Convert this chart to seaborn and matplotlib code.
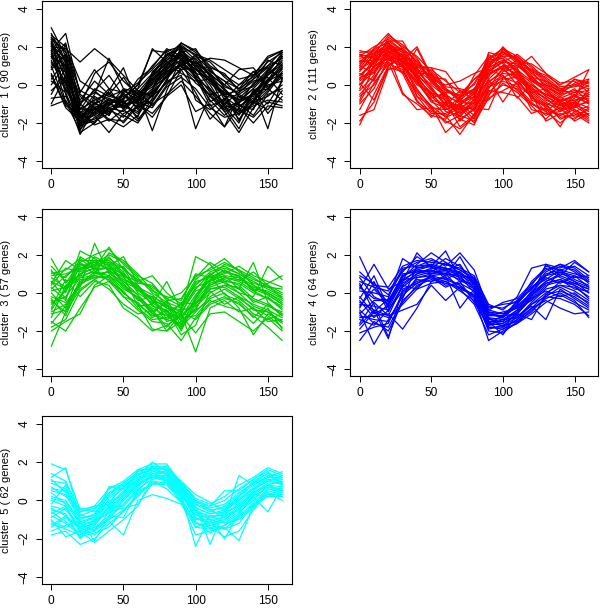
import numpy as np
import pandas as pd
import seaborn as sns
import matplotlib.pyplot as plt

TIMES = [0, 10, 20, 30, 40, 50, 60, 70, 80, 90, 100, 110, 120, 130, 140, 150, 160]

GENE_COUNTS = [90, 111, 57, 64, 62]
COLORS = ['#000000', '#FF0000', '#00CD00', '#0000FF', '#00FFFF']

# one string per gene profile, values at the 17 time points
CLUSTER1 = [
    "2.5 1.2 -1.8 -1.2 -0.8 -0.9 -0.5 0.3 1.0 1.8 1.2 0.5 -0.3 -0.8 -0.2 0.6 1.2",
    "3.0 1.5 -2.2 -1.5 -1.0 -0.6 -0.2 0.6 1.4 2.1 1.5 0.8 0.0 -0.5 0.0 0.8 1.5",
    "1.8 2.7 -0.5 -1.0 -0.6 -0.3 -0.8 0.1 0.8 1.5 0.8 0.2 -0.6 -1.2 -0.4 0.3 0.8",
    "1.2 0.2 -2.0 -1.8 -1.3 -1.1 -1.4 -0.5 0.5 1.0 0.3 -0.2 -1.0 -1.5 -0.8 -0.2 0.4",
    "2.2 0.8 -1.5 -0.5 1.4 -0.2 -1.0 -0.3 1.2 1.6 1.0 0.3 -0.5 -0.3 0.5 1.0 1.8",
    "-1.0 0.5 -2.5 -2.0 -1.2 -1.4 -0.6 0.2 0.9 1.3 0.4 -0.6 -1.2 -2.3 -0.8 0.2 0.6",
    "0.5 -1.2 -1.9 -1.6 -2.5 -1.5 -1.2 -0.8 0.2 0.5 -2.3 -0.5 -1.3 -1.0 -1.6 -0.5 -0.2",
    "1.5 1.0 -0.8 0.2 -0.5 0.4 -0.7 0.5 1.5 2.2 1.8 1.0 0.5 0.0 0.4 1.2 1.7",
    "2.3 -0.5 -2.6 -1.2 -1.8 -2.2 -1.6 -0.5 0.5 1.1 0.5 -0.3 -0.9 -1.4 -1.0 -0.3 0.9",
    "0.8 1.6 -1.3 -0.8 -0.4 -1.0 -0.9 -0.2 0.9 1.7 1.9 0.7 0.2 -0.6 -0.9 0.1 1.0",
    "-1.1 -0.8 -2.1 -1.4 -0.9 -0.5 -1.2 0.3 1.2 0.8 -0.4 -1.8 -1.0 -0.4 0.2 0.4 -0.5",
    "2.0 1.9 1.2 1.9 1.3 0.5 -0.3 -0.6 0.1 0.8 0.9 0.2 -0.4 -0.8 -0.5 0.2 1.1",
    "1.0 -1.0 -1.7 -0.9 -1.5 -0.8 -1.8 -1.0 -0.5 0.2 -0.6 -1.5 -2.2 -1.2 -2.0 -1.1 -1.2",
    "2.6 2.0 0.2 -0.3 -1.0 -0.7 0.0 1.0 1.8 2.0 1.6 1.3 0.8 0.3 0.5 1.4 1.8",
    "1.6 0.0 -2.3 -1.7 -1.2 -0.9 -0.6 -0.1 0.4 1.2 0.6 0.4 -0.6 -1.6 -0.4 -1.0 0.2",
    "0.3 1.3 -1.0 -0.3 0.5 -0.6 -1.0 -1.5 -0.6 0.8 1.2 0.6 -0.8 0.0 0.7 -0.2 -0.8",
    "2.4 0.6 -1.6 -1.1 -1.3 -1.7 -0.8 0.6 1.6 1.9 0.9 0.0 -1.2 -0.9 -0.6 0.5 1.3",
    "1.3 -0.3 -1.4 -2.0 -0.7 -1.2 -0.4 -2.4 -0.3 1.4 0.7 -0.9 -0.4 -1.9 -0.3 -2.3 0.4",
    "2.1 1.4 -0.6 -1.2 -1.9 -1.3 -1.9 -0.7 0.7 1.0 1.5 1.2 0.4 -0.2 0.3 0.9 1.4",
    "0.0 1.1 -2.0 -0.6 -1.1 -0.2 -0.4 0.5 1.1 1.6 -0.8 -1.3 -0.7 -1.8 -0.9 -0.6 0.0",
    "1.9 0.4 -1.2 -1.5 -0.3 0.9 -1.1 -0.9 0.3 1.2 1.0 0.9 0.6 -0.3 -0.1 0.7 1.6",
    "2.5 1.7 -0.3 -0.7 -1.4 -1.0 -0.2 1.9 1.2 0.6 0.2 0.3 -0.2 -1.1 -1.3 0.3 0.9",
    "-0.5 0.9 -1.7 -1.3 -0.9 -1.6 -2.0 -0.9 0.2 2.0 1.3 0.1 -0.6 -0.7 0.0 1.3 1.0",
    "1.7 -0.9 -2.4 -0.9 -1.6 -0.4 -1.3 -0.3 1.8 1.3 0.4 -0.6 -1.4 -2.5 -1.2 -0.4 0.6",
    "1.4 2.2 -1.1 0.6 1.2 0.2 -0.5 0.0 0.6 1.1 1.4 0.5 0.0 0.8 0.9 -0.1 0.5",
    "2.2 0.3 -2.0 -1.4 -1.0 -1.2 -0.7 0.4 1.3 1.7 0.6 -0.4 -1.1 -1.3 -1.7 -0.9 -1.1",
    "0.6 -1.1 -1.5 -2.1 -1.8 -1.9 -1.0 -1.7 -0.6 0.0 -1.4 -1.0 -2.2 -0.5 -0.9 -1.3 -0.3",
    "2.0 1.2 -1.3 -0.2 -0.6 -0.8 0.3 0.9 1.9 1.5 1.1 1.4 1.3 0.9 0.5 1.5 1.8",
    "1.1 0.7 -1.5 -1.0 -0.2 -0.4 0.1 0.8 1.6 1.4 0.8 0.6 -0.1 -0.4 0.3 1.0 1.4",
    "2.4 1.8 -0.9 -0.4 -0.8 -1.1 -1.5 -0.4 0.4 1.8 0.9 -0.2 -1.4 -1.1 -0.7 0.0 0.2",
    "1.5 0.1 -2.1 -1.9 -1.5 -0.7 0.0 1.8 1.7 1.0 0.1 -0.5 -0.3 -0.9 -0.5 0.6 1.7",
    "-0.7 -0.6 -1.8 -1.0 -1.2 -2.0 -1.1 -0.6 0.5 1.9 0.3 -0.8 -1.6 -0.9 -0.2 -1.5 -0.6",
    "2.7 1.3 -1.0 -1.6 -1.1 -0.5 -0.9 0.2 1.0 2.2 1.7 0.9 -0.2 -1.0 0.1 0.5 1.1",
    "0.9 2.1 -0.4 0.8 -0.2 -1.3 -0.3 -1.1 0.0 0.9 1.6 0.4 -0.5 -0.6 -1.0 0.8 0.3",
    "1.8 -0.2 -1.3 -0.8 -0.5 -0.9 -1.7 0.7 1.3 2.0 0.4 -1.1 -0.8 -1.4 -0.3 0.2 1.5",
    "-0.3 0.4 -1.6 -1.2 -1.6 -0.3 -0.6 -0.4 0.8 1.6 1.1 0.3 -1.1 -2.0 -0.4 -0.2 0.7",
    "2.1 1.0 -1.9 -1.3 -0.7 -1.1 -0.8 0.1 0.7 1.3 1.2 0.7 0.2 -0.2 0.7 0.9 0.3",
    "0.2 -0.4 -2.2 -1.5 -1.4 -1.0 -0.9 -1.2 -0.1 0.4 -0.2 -1.2 -1.7 -1.5 -1.1 -0.8 -0.9",
]

CLUSTER2 = [
    "0.5 1.2 2.0 1.5 0.6 -0.3 -0.8 -1.2 -0.8 0.5 1.0 0.8 0.2 -0.3 -0.8 -0.8 -0.7",
    "1.7 1.8 2.3 2.3 1.0 0.3 -0.5 -1.0 -0.6 1.0 1.6 1.4 0.6 0.0 -0.5 -0.3 -0.5",
    "-2.1 -0.5 1.0 1.4 0.8 -0.2 -1.0 -1.5 -1.1 0.2 0.6 0.5 -0.2 -0.7 -1.3 -1.0 -1.4",
    "1.0 1.9 2.7 1.9 1.2 0.6 -0.2 -0.9 -0.5 1.4 1.9 1.2 0.5 -0.4 -0.9 -0.6 -0.8",
    "-1.6 -1.3 0.8 1.0 0.2 -0.8 -1.6 -2.6 -1.5 -0.4 0.3 0.4 -0.4 -1.0 -1.8 -1.5 -2.0",
    "0.8 1.5 1.8 1.3 2.0 0.5 -0.3 -0.6 -0.2 0.7 1.2 1.6 1.0 0.3 -0.3 0.3 0.1",
    "0.2 0.8 1.5 1.0 -0.3 -1.1 -2.5 -1.8 -2.1 -0.2 0.9 0.6 -0.5 -1.9 -1.5 -1.8 -1.2",
    "1.3 1.1 2.1 1.7 0.9 0.9 0.7 -0.3 -0.8 1.7 1.5 1.0 0.8 0.5 0.0 0.4 0.8",
    "-0.5 0.3 1.6 1.2 0.4 -0.5 -1.2 -0.7 -1.4 0.3 -0.9 0.2 -0.6 -1.2 -2.2 -0.9 -1.6",
    "1.5 2.0 2.4 1.8 0.7 0.0 -0.6 -1.4 -0.9 0.9 1.8 1.1 0.4 -0.2 -0.7 -0.4 -0.3",
    "0.0 1.0 1.2 -0.5 -1.0 -1.6 -1.8 -0.6 0.3 0.8 0.5 -0.3 -1.0 -1.3 -1.6 -1.1 -0.9",
    "1.0 0.6 1.9 1.5 1.2 0.3 0.0 0.2 0.6 0.9 1.3 0.9 1.5 0.6 0.1 0.2 -0.4",
    "-1.0 -0.2 1.4 0.9 -0.6 -1.5 -1.5 -1.1 -1.8 -0.1 0.2 -0.1 -0.9 -1.6 -1.2 -1.9 -1.5",
    "0.7 1.6 2.2 1.4 0.5 -0.1 -1.1 -0.3 -0.5 1.2 1.4 0.7 0.1 -0.6 -1.0 -0.8 -0.6",
    "1.2 1.3 1.7 0.6 1.9 0.4 0.3 -0.9 0.5 1.5 0.8 1.3 0.3 -0.1 -0.5 0.1 0.3",
    "-0.3 0.5 2.0 1.1 -0.2 -1.2 -2.0 -1.6 -1.0 0.6 0.9 0.0 -0.6 -1.4 -0.8 -1.3 -1.8",
    "0.3 1.4 1.3 1.6 0.3 -0.7 -0.4 -1.9 -1.2 -1.3 0.4 0.7 -0.3 -0.9 -1.4 -0.5 -1.0",
    "1.6 0.9 2.5 2.0 1.5 0.7 -0.1 -0.2 -0.4 0.4 1.9 1.5 0.9 0.2 -0.2 -0.6 0.3",
    "-1.3 0.1 1.1 0.8 -0.8 -1.7 -0.9 -2.2 -1.6 -0.3 -0.4 -0.6 -1.5 -1.2 -1.7 -1.6 -1.3",
    "0.9 1.7 2.1 1.2 0.8 0.2 -0.7 -1.3 -0.6 1.1 1.7 1.3 0.7 -0.1 -0.6 -0.2 -0.9",
    "0.4 0.6 1.6 -0.4 -1.3 -1.2 -1.3 -1.0 -0.3 1.6 1.1 0.4 -0.1 -0.8 -1.1 -0.7 0.8",
    "-0.8 1.0 1.4 1.1 0.0 -0.4 -1.4 -1.6 -1.9 -0.6 0.7 0.9 -0.8 -1.1 -0.6 -1.2 -0.2",
    "1.4 1.5 2.2 1.5 1.0 0.9 -0.2 -0.8 -0.2 0.6 1.0 1.0 0.4 0.2 -0.4 0.3 -0.1",
    "0.6 0.2 1.8 1.0 0.1 -0.8 -1.0 -1.3 -1.2 0.0 0.5 -0.7 0.0 -0.5 -0.9 -1.4 -1.1",
    "1.1 1.8 1.5 1.3 0.4 -0.5 -0.6 -1.7 -0.7 1.3 1.4 0.6 -0.4 -0.2 -1.0 -0.9 -0.4",
    "-0.2 1.3 2.3 1.8 0.6 0.6 -0.9 -1.1 -1.3 0.8 1.2 0.3 -0.3 -0.7 -1.3 -1.2 -0.8",
    "0.1 -0.8 1.0 1.6 -0.6 -1.1 -1.7 -1.4 -0.9 -0.8 0.1 -0.4 -1.1 -1.8 -1.0 -1.7 -1.5",
    "1.8 1.6 2.0 1.9 1.3 0.1 -0.4 -0.5 0.3 1.0 2.0 1.2 1.1 0.6 -0.1 0.0 0.2",
    "0.8 1.3 1.9 1.4 1.1 0.4 -0.6 -0.9 -1.0 0.7 1.2 1.1 0.3 -0.3 -0.9 -0.5 -0.6",
    "-0.9 0.4 1.3 1.0 0.2 -0.9 -1.2 -1.8 -1.3 -0.1 0.4 0.1 -0.5 -1.1 -1.6 -1.3 -1.7",
    "1.5 1.6 2.6 2.1 1.4 0.2 -0.3 -0.7 0.1 1.2 1.5 1.5 0.7 0.4 -0.2 -0.1 0.1",
    "0.3 0.9 1.7 1.3 0.5 -0.6 -1.3 -1.0 -1.6 0.1 0.8 0.3 -0.7 -1.0 -1.2 -0.9 -1.2",
    "-1.9 -0.9 0.9 0.7 -0.4 -1.3 -1.9 -2.3 -1.7 -0.5 0.0 -0.2 -1.0 -1.4 -2.0 -1.4 -1.9",
    "1.2 1.9 2.2 1.7 0.8 0.5 -0.2 -0.6 -0.3 1.3 1.9 1.3 0.8 0.1 -0.4 0.0 -0.2",
    "0.0 0.7 1.5 1.2 0.3 -0.4 -0.8 -1.5 -0.9 0.3 1.0 0.5 0.0 -0.6 -1.1 -1.0 -0.5",
    "-0.6 0.0 1.2 0.6 -0.9 -1.4 -1.6 -1.2 -2.0 -0.7 -0.3 0.1 -1.3 -1.5 -1.4 -1.1 -1.6",
    "1.6 1.4 2.0 1.6 0.4 0.8 0.2 -0.4 0.0 1.4 1.7 1.4 0.2 0.0 -0.3 -0.4 0.0",
    "0.5 1.1 1.7 1.9 0.9 -0.2 -1.1 -1.1 -0.4 0.9 1.3 0.8 -0.2 -0.5 -0.8 -0.6 -1.0",
]

CLUSTER3 = [
    "-0.5 -0.2 0.8 1.2 1.3 0.8 0.2 -0.3 -0.8 -1.2 -0.5 0.3 0.6 0.5 0.0 -0.3 -0.8",
    "1.8 0.5 1.6 2.0 2.3 1.5 0.8 0.0 -0.5 -0.8 0.2 1.0 1.3 1.0 0.6 0.2 -0.2",
    "-2.8 -1.0 0.6 0.9 1.1 0.3 -0.3 -0.8 -1.2 -1.8 -1.0 -0.2 0.2 -0.3 -0.8 -1.2 -1.8",
    "0.5 1.7 1.2 1.5 1.6 1.0 0.3 -0.4 -1.0 -0.6 0.5 0.9 1.5 1.2 0.4 0.0 -0.5",
    "-1.5 -2.0 -0.8 0.3 0.6 -0.2 -0.9 -1.5 -1.6 -2.5 -1.3 -0.5 -0.2 -0.6 -1.2 -1.8 -2.5",
    "1.2 0.0 2.2 1.8 1.4 1.9 0.5 0.4 -0.3 0.0 0.8 1.6 1.1 0.9 0.1 0.5 0.9",
    "-1.0 -0.6 0.3 2.6 1.0 0.6 -0.1 -1.1 -0.4 -1.5 -0.9 0.6 0.9 0.2 -0.4 -0.7 -1.0",
    "0.8 0.3 1.0 1.3 2.4 1.2 0.7 0.2 -0.7 -1.0 0.1 0.4 0.8 0.7 0.3 0.0 -0.4",
    "-2.0 -1.5 -1.1 0.4 0.9 0.0 -0.6 -1.9 -2.0 -1.1 -3.1 -0.8 -0.4 -1.0 -0.8 -1.5 -1.4",
    "0.2 0.9 1.4 1.6 1.7 1.1 0.0 -0.5 -1.1 -1.4 -0.3 0.7 1.2 0.8 0.4 -0.1 -0.6",
    "-0.3 -1.2 0.5 0.8 0.8 -0.2 -0.5 -1.3 -0.9 -2.2 -1.7 0.1 -0.6 -0.2 -0.9 -1.0 -1.6",
    "1.0 1.2 1.8 1.2 1.9 0.9 0.6 0.9 0.0 -0.6 0.7 1.3 1.8 1.1 0.7 0.4 0.0",
    "-1.3 0.4 0.9 1.1 1.4 0.5 -0.4 -0.2 -1.4 -0.9 -0.7 0.0 0.4 0.3 -0.5 -0.2 -0.9",
    "0.0 -0.8 1.2 1.7 1.2 1.4 0.4 -0.7 -0.9 -1.8 -0.2 1.0 0.5 0.2 1.6 -0.5 -1.2",
    "-0.8 0.7 -0.2 0.6 0.4 -0.8 -1.3 -2.0 -1.7 -1.2 -2.1 -1.1 -1.0 -1.5 -2.0 -1.3 -2.0",
    "0.6 0.2 1.6 1.0 2.1 1.7 1.0 0.1 -0.2 -0.4 1.0 0.8 1.0 1.4 0.9 0.6 0.3",
    "-1.8 -1.4 0.1 0.7 0.2 -0.6 -1.1 -0.9 -2.0 -1.5 -0.9 -0.4 -0.7 -0.9 -1.6 -0.8 -1.9",
    "1.4 0.6 0.9 1.9 1.5 0.6 0.2 -0.6 0.6 -0.9 1.9 1.5 0.6 0.0 -0.2 1.4 0.7",
    "-0.6 0.1 1.0 1.3 0.6 0.1 -0.8 -1.4 -1.3 -0.5 -0.6 0.2 0.3 -0.2 -0.6 -0.9 -1.3",
    "0.3 -0.4 1.9 1.4 1.8 1.3 0.1 -0.2 -0.6 -2.0 -0.4 0.5 0.8 0.6 0.1 -0.3 -0.7",
    "-1.1 -0.9 0.7 0.8 0.9 0.2 -0.2 -1.0 -0.5 -1.7 -0.3 0.9 -0.1 -0.4 -1.1 -1.4 -1.1",
    "0.9 1.0 1.3 1.6 1.2 0.7 0.3 -0.1 -0.8 -1.1 0.3 0.6 1.1 0.9 0.2 0.1 -0.3",
    "-0.2 -0.5 0.4 1.0 1.1 0.9 -0.7 -0.6 -1.5 -1.3 -1.2 -0.3 0.0 -0.8 -2.2 -1.1 -1.5",
    "0.4 1.3 1.1 1.5 2.0 1.6 0.9 0.5 -0.4 -0.3 0.9 1.2 1.6 1.2 0.8 0.3 -0.1",
    "0.1 0.3 1.3 1.4 1.5 0.9 0.4 -0.4 -1.0 -1.3 -0.1 0.7 0.9 0.8 0.2 -0.1 -0.6",
    "-1.6 -0.7 0.5 1.1 0.9 0.4 -0.3 -1.1 -1.4 -1.6 -0.8 0.2 0.4 0.0 -0.7 -1.0 -1.5",
    "1.1 0.8 1.7 1.7 1.6 1.3 0.6 0.3 -0.3 -0.7 0.4 1.1 1.4 1.0 0.5 0.3 0.2",
    "-0.9 0.2 0.8 0.9 0.7 0.0 -0.6 -1.2 -1.1 -1.9 -0.6 0.4 0.7 0.4 -0.3 -0.6 -1.1",
    "0.6 -0.3 1.5 1.3 1.3 1.0 0.2 -0.4 -0.7 -0.9 0.6 0.8 1.2 0.6 1.1 0.4 -0.3",
    "-0.4 -1.0 0.2 0.7 1.2 0.4 -0.1 -0.9 -1.8 -1.0 -1.4 -0.6 -0.3 -0.5 -1.3 -0.6 -1.2",
]

CLUSTER4 = [
    "-0.6 -0.7 -0.9 0.3 0.9 1.1 1.1 0.8 0.3 -1.4 -1.5 -1.0 -0.3 0.4 0.6 0.5 0.2",
    "1.9 0.3 -0.5 0.8 1.5 2.1 1.6 1.2 0.7 -0.8 -0.6 -0.5 0.2 1.0 1.2 1.0 0.8",
    "-2.5 -1.5 -2.0 -0.5 0.4 0.7 0.5 0.3 -0.2 -2.5 -2.0 -1.6 -0.9 -0.3 0.0 -0.4 -1.3",
    "0.5 -1.0 -0.3 1.8 1.3 1.5 1.3 1.0 0.6 -1.2 -1.2 -0.7 0.0 0.9 1.4 1.2 0.6",
    "-1.0 -2.7 -1.4 -0.2 0.8 1.0 1.0 0.9 0.0 -1.6 -1.7 -1.3 -0.5 0.2 0.4 0.3 -0.2",
    "0.2 1.5 0.2 0.6 2.1 1.3 1.8 1.4 0.5 -1.0 -1.1 -0.8 -0.1 0.6 1.0 0.8 0.9",
    "-1.7 -0.9 -2.4 0.2 0.5 0.8 0.6 0.1 -0.4 -1.8 -1.9 -1.4 -0.6 -0.2 0.3 -0.1 -0.5",
    "-0.3 0.9 -0.8 0.6 1.2 1.4 2.2 0.7 0.4 -1.3 -1.4 -0.9 -0.2 1.5 0.9 1.6 1.1",
    "-1.3 -1.2 -1.1 -1.9 -0.8 0.6 0.9 1.9 0.6 -1.5 -2.2 -1.1 -1.4 -0.1 0.6 0.4 -0.3",
    "0.8 -0.2 -0.6 1.0 1.1 1.2 0.9 -0.8 0.2 -1.1 -1.3 -0.6 0.3 0.7 1.2 0.7 0.4",
    "-0.9 -1.6 -1.8 -0.4 0.3 0.9 0.4 0.5 0.1 -1.7 -1.6 -1.2 -0.7 -1.4 0.2 -0.3 -0.8",
    "0.1 0.0 -0.2 1.2 1.6 1.8 1.4 2.1 1.2 -0.9 -0.5 -0.3 0.5 1.2 1.5 1.1 0.5",
    "-1.6 -0.5 -1.2 -0.9 -0.6 0.4 -0.4 0.3 -0.1 -2.0 -2.1 -1.5 -0.8 -0.4 -0.8 -1.1 -1.0",
    "-0.4 -1.3 -0.6 0.5 1.0 1.3 1.2 0.6 0.5 -1.3 -1.8 -1.0 -0.1 0.5 0.7 0.2 0.1",
    "1.1 0.4 0.3 1.4 1.7 1.6 1.5 1.3 0.9 -0.6 -0.9 -0.2 1.3 1.5 1.3 1.7 1.1",
    "-2.1 -1.8 -1.6 0.0 0.7 0.6 0.8 0.4 -0.3 -1.9 -1.7 -1.5 -1.0 -0.2 -0.3 -0.6 -1.2",
    "-0.8 0.6 -1.0 0.4 0.2 1.0 1.3 0.9 0.8 -1.2 -1.0 -0.8 -0.4 0.3 1.1 0.6 0.0",
    "0.4 -0.6 -2.3 -0.3 1.4 1.5 0.7 1.1 0.2 -1.5 -1.5 -0.9 0.1 0.8 0.5 0.9 0.3",
    "-1.1 -0.4 -0.4 0.7 0.8 0.9 1.0 0.2 -0.1 -1.6 -1.2 -1.1 -0.3 0.1 -0.2 0.0 -0.6",
    "-0.2 -1.1 -0.7 0.9 1.2 1.1 1.6 1.0 0.7 -1.0 -1.3 -0.4 0.2 1.1 1.5 1.3 0.7",
    "-1.4 -1.7 -0.9 0.1 0.6 0.8 0.3 0.6 -0.5 -1.7 -1.4 -1.3 -0.6 0.0 0.4 0.1 -0.4",
    "0.6 0.3 0.1 1.1 1.9 1.4 1.2 1.5 0.4 -0.9 -1.1 -0.6 0.6 1.3 0.8 0.5 0.2",
    "-0.5 -0.9 -1.2 0.4 1.0 1.2 1.0 0.7 0.2 -1.5 -1.6 -1.1 -0.2 0.5 0.7 0.4 0.0",
    "0.3 -0.3 -0.4 0.9 1.3 1.4 1.3 1.1 0.5 -1.1 -1.2 -0.5 0.3 0.9 1.1 0.9 0.6",
    "-1.2 -1.4 -1.5 -0.1 0.5 0.9 0.7 0.4 -0.2 -1.8 -1.8 -1.4 -0.8 -0.1 0.1 -0.2 -0.7",
    "-0.7 0.2 -0.6 0.7 1.1 1.0 1.2 0.9 0.5 -1.4 -1.3 -0.7 0.0 0.6 0.9 0.6 0.3",
    "-1.9 -1.0 -1.3 -0.6 0.2 0.5 0.6 0.2 -0.6 -2.2 -1.9 -1.6 -1.1 -0.5 -0.1 -0.5 -0.9",
    "0.9 0.5 -0.1 1.3 1.4 1.7 1.5 1.2 0.8 -0.7 -0.8 -0.4 0.4 1.4 1.2 1.4 0.9",
]

CLUSTER5 = [
    "-0.3 -0.5 -1.3 -1.1 -0.5 0.3 1.0 1.4 1.4 0.5 -0.5 -0.9 -0.7 -0.2 0.4 0.9 0.9",
    "1.9 1.6 -0.5 -0.3 0.6 1.0 1.6 1.9 1.9 0.9 0.1 -0.2 0.2 0.8 1.2 1.7 1.4",
    "-1.8 -1.6 -2.3 -2.0 -1.2 -0.6 0.4 0.9 0.8 0.0 -1.4 -1.5 -1.3 -0.8 -0.2 0.3 0.3",
    "1.2 1.7 -0.9 -0.8 0.7 0.8 1.3 1.6 1.8 0.7 -0.2 -0.6 -0.3 0.3 0.9 1.4 1.2",
    "-1.0 -1.9 -1.6 -2.2 -1.6 -1.0 -0.3 1.2 1.0 0.3 -2.4 -0.8 -1.2 -1.0 -0.4 0.6 0.5",
    "0.5 0.3 -1.0 -0.7 0.2 0.7 1.2 1.5 1.5 0.6 -0.3 -2.3 -0.5 0.0 0.7 1.1 1.0",
    "-0.8 -1.2 -1.8 -1.5 -0.9 -0.2 0.6 1.1 1.2 0.2 -0.7 -1.2 -1.0 -0.4 0.1 0.7 0.6",
    "0.9 0.6 -0.6 -0.3 -0.2 0.4 1.5 1.7 1.6 0.9 0.0 -0.5 -0.9 1.3 0.8 1.2 1.1",
    "-1.4 -0.9 -1.4 -1.8 -1.1 -1.8 0.0 0.3 0.1 -0.2 -1.2 -1.4 -1.9 -1.6 -0.5 0.4 0.0",
    "0.2 0.0 -1.1 -1.3 -0.3 0.5 1.0 1.8 1.3 0.6 -0.4 -0.7 -0.5 0.1 0.6 1.0 1.3",
    "-0.5 -0.7 -2.0 -1.0 -0.7 0.1 0.8 1.3 1.1 0.4 -1.0 -1.0 -2.0 -0.7 0.2 -0.6 0.7",
    "1.0 0.9 -0.8 -0.5 0.4 0.9 1.4 1.6 1.7 0.8 -0.1 -0.3 0.5 0.5 1.1 1.5 0.8",
    "-1.1 -1.4 -1.2 -1.6 -0.6 -0.4 -0.2 0.9 0.9 -0.1 -1.8 -1.6 -1.4 -2.1 -0.3 0.2 0.2",
    "0.0 -0.3 -1.5 -1.2 0.1 0.6 1.1 1.5 1.4 0.8 -0.6 -0.8 -0.8 -0.1 0.5 1.3 0.9",
    "-0.6 -1.1 -1.7 -1.4 -1.0 0.0 0.7 1.4 1.2 0.4 -0.9 -1.3 -1.1 -0.6 0.0 0.8 0.5",
    "0.7 0.2 -0.4 -0.6 -0.1 0.7 1.3 2.0 1.5 0.7 -0.2 -0.4 -0.2 0.4 0.9 1.2 1.5",
    "-1.3 -0.8 -1.9 -1.7 -1.4 -0.5 0.2 1.0 0.6 -0.1 -1.4 -1.1 -1.5 -1.2 -0.2 0.5 0.3",
    "0.4 -0.2 -1.2 -0.9 0.0 0.2 0.9 1.2 1.3 0.5 -0.8 -0.9 -0.6 -0.3 0.3 0.8 1.0",
    "-0.2 0.8 -1.4 -1.0 -0.4 0.3 1.6 1.6 1.4 0.3 -0.5 -1.5 -0.8 -0.5 0.5 1.1 0.8",
    "-1.6 -1.3 -1.1 -2.1 -0.8 -0.9 0.5 0.8 1.0 0.1 -1.1 -1.7 -1.3 -0.9 -0.1 0.6 0.4",
    "1.1 0.4 -0.7 -1.1 0.7 0.6 1.1 1.7 1.6 1.0 0.3 -0.1 -0.5 0.2 1.0 1.4 1.2",
    "-0.9 -0.4 -1.6 -1.3 -0.3 -0.3 0.5 1.3 1.0 0.2 -0.6 -1.0 -1.2 -0.7 0.3 0.2 0.6",
    "-0.4 -0.8 -1.4 -1.2 -0.6 0.2 0.9 1.3 1.3 0.4 -0.6 -1.0 -0.9 -0.3 0.4 0.8 0.7",
    "0.6 0.5 -0.9 -0.8 0.3 0.8 1.3 1.7 1.6 0.8 -0.2 -0.5 -0.4 0.2 0.8 1.3 1.1",
    "-1.2 -1.5 -1.8 -1.6 -1.0 -0.5 0.3 1.0 0.9 0.1 -1.2 -1.3 -1.5 -0.9 -0.3 0.4 0.2",
    "0.1 -0.1 -1.1 -0.9 -0.2 0.4 1.1 1.4 1.5 0.6 -0.4 -0.7 -0.6 0.0 0.6 1.0 0.9",
    "-0.7 -0.3 -1.7 -1.4 -0.8 0.0 0.8 1.2 1.1 0.3 -0.9 -1.2 -1.0 -0.5 0.2 0.7 0.5",
    "1.4 1.0 -0.6 -0.4 0.3 0.9 1.5 1.8 1.7 1.0 0.0 -0.3 0.0 0.6 1.1 1.6 1.3",
]

CLUSTERS = [CLUSTER1, CLUSTER2, CLUSTER3, CLUSTER4, CLUSTER5]


def to_frame(profiles):
    rows = []
    for g, s in enumerate(profiles):
        for t, v in zip(TIMES, s.split()):
            rows.append((g, t, float(v)))
    return pd.DataFrame(rows, columns=['gene', 'time', 'value'])


sns.set_style('white')
plt.rcParams['font.family'] = ['Liberation Sans', 'DejaVu Sans']

W, H = 600, 608
fig = plt.figure(figsize=(W / 100, H / 100), dpi=100)

# panel boxes in pixels: left, top, right, bottom
boxes = [
    (42, 1, 291.5, 168),
    (350.5, 1, 598, 168),
    (42, 209, 291.5, 376),
    (350.5, 209, 598, 376),
    (42, 416, 291.5, 584),
]

for i, (profiles, color, n, (l, t, r, b)) in enumerate(zip(CLUSTERS, COLORS, GENE_COUNTS, boxes)):
    ax = fig.add_axes([l / W, 1 - b / H, (r - l) / W, (b - t) / H])
    df = to_frame(profiles)
    sns.lineplot(data=df, x='time', y='value', units='gene', estimator=None,
                 color=color, lw=0.9, ax=ax, legend=False)
    ax.set_xlim(-6.4, 166.4)
    ax.set_ylim(-4.36, 4.4)
    ax.set_xticks([0, 50, 100, 150])
    ax.set_yticks([-4, -2, 0, 2, 4])
    ax.tick_params(axis='both', direction='out', length=4.5, width=0.7,
                   labelsize=8.6, color='black', labelcolor='black',
                   bottom=True, left=True)
    ax.tick_params(axis='x', pad=3.5)
    ax.tick_params(axis='y', pad=3.5)
    for lab in ax.get_yticklabels():
        lab.set_rotation(90)
        lab.set_va('center')
    ax.set_xlabel('')
    ax.set_ylabel('cluster  %d ( %d genes)' % (i + 1, n), fontsize=8.0,
                  va='center', color='black')
    ax.yaxis.set_label_coords(-36 / (r - l), 0.5)
    for sp in ax.spines.values():
        sp.set_color('black')
        sp.set_linewidth(0.8)

fig.savefig('out.png', dpi=100)
